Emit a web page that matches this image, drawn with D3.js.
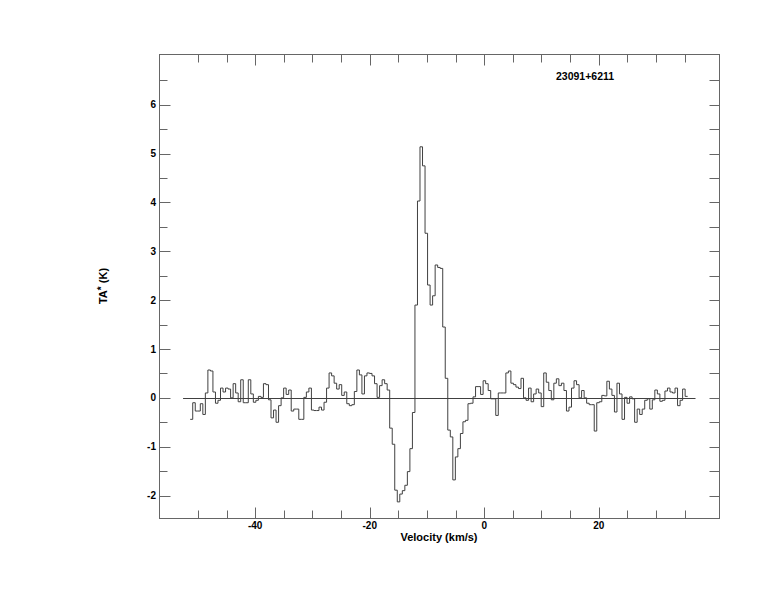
<!DOCTYPE html>
<html><head><meta charset="utf-8">
<script src="https://cdn.jsdelivr.net/npm/d3@7"></script>
<style>body{margin:0;background:#fff}svg{display:block}</style>
</head><body>
<svg id="c" width="774" height="612"></svg>
<script>
// ---- data ----
const sourceName = "23091+6211";
const xTitle = "Velocity (km/s)";
const xMajorTicks = [-40, -20, 0, 20];
const xMinorTicks = [-50, -45, -35, -30, -25, -15, -10, -5, 5, 10, 15, 25, 30, 35];
const yMajorTicks = [-2, -1, 0, 1, 2, 3, 4, 5, 6];
const yMinorTicks = [-1.5, -0.5, 0.5, 1.5, 2.5, 3.5, 4.5, 5.5, 6.5];
const xDomain = [-56.8, 41.0];
const yDomain = [-2.46, 7.04];
const firstChannelEdge = -51.35;   // km/s
const channelWidth = 0.441;        // km/s
const baselineVel = [-52.6, 36.9];
const ta = [
 -0.44,-0.10,-0.27,-0.27,-0.12,-0.34, 0.10, 0.57, 0.55, 0.12,
 -0.11,-0.05, 0.20, 0.12, 0.20, 0.18, 0.00, 0.29, 0.10,-0.08,
  0.37,-0.10,-0.10, 0.37, 0.08,-0.09,-0.05, 0.03, 0.01, 0.29,
  0.27,-0.04,-0.41,-0.25,-0.50,-0.16, 0.00, 0.20, 0.07, 0.16,
 -0.27,-0.23,-0.23,-0.44,-0.44, 0.01, 0.12, 0.20,-0.25,-0.26,
 -0.26,-0.19,-0.25,-0.09, 0.20, 0.51, 0.45, 0.30, 0.18, 0.27,
  0.05, 0.12,-0.12,-0.16,-0.14, 0.13, 0.57, 0.47, 0.08, 0.45,
  0.51, 0.50, 0.45, 0.29, 0.01, 0.25, 0.37, 0.29, 0.16,-0.62,
 -0.95,-1.89,-2.13,-1.97,-1.90,-1.79,-1.51,-1.04,-0.30, 1.90,
  4.03, 5.14, 4.75, 3.37, 2.31, 1.90, 2.09, 2.72, 2.67, 2.65,
  1.45, 0.40,-0.66,-0.80,-1.68,-1.21,-1.04,-0.73,-0.49,-0.46,
 -0.12,-0.11, 0.02, 0.23, 0.23, 0.07, 0.35, 0.29, 0.15,-0.02,
 -0.02,-0.36, 0.10, 0.10, 0.10, 0.51, 0.55, 0.30, 0.27, 0.22,
  0.19, 0.40, 0.00,-0.05, 0.20,-0.08, 0.08, 0.18, 0.10,-0.18,
  0.51, 0.32, 0.15,-0.04, 0.30, 0.39, 0.25, 0.30, 0.15,-0.27,
 -0.19, 0.20, 0.35, 0.27, 0.00, 0.15, 0.00,-0.11,-0.14,-0.14,
 -0.68,-0.10,-0.08, 0.05, 0.04, 0.34, 0.18, 0.05,-0.29, 0.30,
  0.08,-0.44, 0.01,-0.11, 0.02,-0.02,-0.50,-0.23,-0.34,-0.23,
 -0.05,-0.02,-0.23,-0.04, 0.16, 0.08,-0.07,-0.05, 0.14, 0.20,
  0.12, 0.10, 0.20,-0.16,-0.05, 0.18, 0.03
];

// ---- layout ----
const L = 159, R = 719, T = 54, B = 518;
const svg = d3.select("#c");
const x = d3.scaleLinear().domain(xDomain).range([L, R]);
const y = d3.scaleLinear().domain(yDomain).range([B, T]);
const font = "'Liberation Sans', Arial, Helvetica, sans-serif";
const frameCol = "#666";
const lineCol = "#404040";

// frame
svg.append("rect").attr("x", L + 0.5).attr("y", T + 0.5)
  .attr("width", R - L).attr("height", B - T)
  .attr("fill", "none").attr("stroke", frameCol).attr("stroke-width", 1);

const g = svg.append("g");
function vtick(v, len, fromBottom) {
  const px = Math.round(x(v)) + 0.5;
  if (fromBottom) g.append("line").attr("x1", px).attr("x2", px).attr("y1", B + 0.5).attr("y2", B + 0.5 - len);
  else g.append("line").attr("x1", px).attr("x2", px).attr("y1", T + 0.5).attr("y2", T + 0.5 + len);
}
function htick(v, len, fromLeft) {
  const py = Math.round(y(v)) + 0.5;
  if (fromLeft) g.append("line").attr("x1", L + 0.5).attr("x2", L + 0.5 + len).attr("y1", py).attr("y2", py);
  else g.append("line").attr("x1", R + 0.5).attr("x2", R + 0.5 - len).attr("y1", py).attr("y2", py);
}
xMajorTicks.forEach(v => { vtick(v, 11, true); vtick(v, 11, false); });
xMinorTicks.forEach(v => { vtick(v, 8, true); vtick(v, 8, false); });
yMajorTicks.forEach(v => { htick(v, 11, true); htick(v, 10, false); });
yMinorTicks.forEach(v => { htick(v, 8, true); htick(v, 10, false); });
g.selectAll("line").attr("stroke", frameCol).attr("stroke-width", 1);

// tick labels
svg.append("g").selectAll("text").data(xMajorTicks).join("text")
  .attr("x", d => x(d)).attr("y", 529)
  .attr("text-anchor", "middle")
  .attr("font-family", font).attr("font-weight", "bold").attr("font-size", 10)
  .attr("fill", "#000").text(d => d);
svg.append("g").selectAll("text").data(yMajorTicks).join("text")
  .attr("x", 156).attr("y", d => y(d) + 3.5)
  .attr("text-anchor", "end")
  .attr("font-family", font).attr("font-weight", "bold").attr("font-size", 10)
  .attr("fill", "#000").text(d => d);

// axis titles
svg.append("text").attr("x", (L + R) / 2).attr("y", 541)
  .attr("text-anchor", "middle").attr("font-family", font)
  .attr("font-weight", "bold").attr("font-size", 11).text(xTitle);
const yt = svg.append("text")
  .attr("transform", `translate(107,${(T + B) / 2}) rotate(-90)`)
  .attr("text-anchor", "middle").attr("font-family", font)
  .attr("font-weight", "bold").attr("font-size", 11);
yt.append("tspan").text("TA");
yt.append("tspan").attr("dy", -2).attr("font-size", 10).text("*");
yt.append("tspan").attr("dy", 2).text(" (K)");

// source name
svg.append("text").attr("x", 556).attr("y", 80)
  .attr("font-family", font).attr("font-weight", "bold").attr("font-size", 10.5)
  .text(sourceName);

// baseline
svg.append("line")
  .attr("x1", x(baselineVel[0])).attr("x2", x(baselineVel[1]))
  .attr("y1", Math.round(y(0)) + 0.5).attr("y2", Math.round(y(0)) + 0.5)
  .attr("stroke", lineCol).attr("stroke-width", 1);

// spectrum (histogram steps)
const pts = ta.map((v, i) => [firstChannelEdge + i * channelWidth, v]);
pts.push([firstChannelEdge + ta.length * channelWidth, ta[ta.length - 1]]);
const line = d3.line().x(d => x(d[0])).y(d => y(d[1])).curve(d3.curveStepAfter);
svg.append("path").attr("d", line(pts))
  .attr("fill", "none").attr("stroke", lineCol).attr("stroke-width", 1);
</script>
</body></html>
